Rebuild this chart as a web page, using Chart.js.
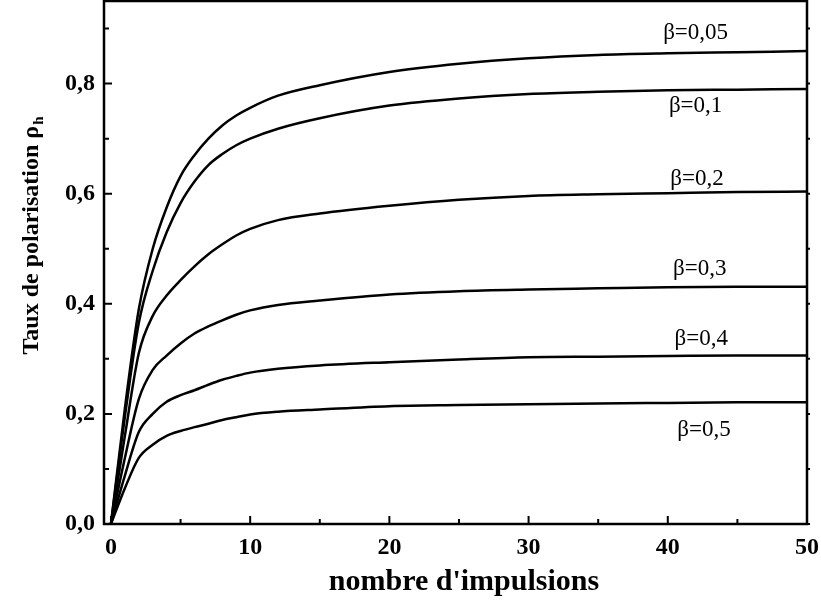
<!DOCTYPE html>
<html>
<head>
<meta charset="utf-8">
<script src="https://cdn.jsdelivr.net/npm/chart.js@4/dist/chart.umd.min.js"></script>
<style>
  body { margin: 0; background: #fff; }
</style>
</head>
<body>
<canvas id="polChart" width="821" height="600"></canvas>
<script>
// ===== Data =====
const pulses = [0, 1, 2, 3, 4, 5, 6, 7, 8, 9, 10, 12, 15, 20, 25, 30, 35, 40, 45, 50];

const rho005 = [0, 0.21, 0.39, 0.50, 0.575, 0.632, 0.670, 0.700, 0.724, 0.742, 0.756, 0.778, 0.797, 0.821, 0.836, 0.846, 0.852, 0.855, 0.857, 0.859];
const rho01  = [0, 0.195, 0.365, 0.46, 0.53, 0.583, 0.622, 0.652, 0.672, 0.688, 0.700, 0.718, 0.737, 0.760, 0.773, 0.781, 0.785, 0.788, 0.789, 0.790];
const rho02  = [0, 0.16, 0.31, 0.378, 0.415, 0.443, 0.468, 0.490, 0.508, 0.524, 0.536, 0.552, 0.564, 0.578, 0.589, 0.596, 0.599, 0.601, 0.603, 0.604];
const rho03  = [0, 0.12, 0.227, 0.28, 0.306, 0.328, 0.346, 0.359, 0.370, 0.380, 0.388, 0.398, 0.406, 0.417, 0.423, 0.426, 0.428, 0.430, 0.431, 0.431];
const rho04  = [0, 0.088, 0.167, 0.20, 0.222, 0.234, 0.243, 0.253, 0.262, 0.269, 0.275, 0.282, 0.288, 0.294, 0.299, 0.303, 0.304, 0.305, 0.306, 0.306];
const rho05  = [0, 0.065, 0.120, 0.144, 0.160, 0.169, 0.176, 0.182, 0.189, 0.194, 0.199, 0.204, 0.208, 0.214, 0.216, 0.2175, 0.219, 0.220, 0.221, 0.221];

const series = [rho005, rho01, rho02, rho03, rho04, rho05];
const curveNames = ["β=0,05", "β=0,1", "β=0,2", "β=0,3", "β=0,4", "β=0,5"];
// label anchors, in data units (x = pulses, y = rate)
const labelX = [42, 42, 42.1, 42.3, 42.4, 42.6];
const labelY = [0.892, 0.759, 0.627, 0.464, 0.337, 0.170];

const xTicks = [0, 10, 20, 30, 40, 50];
const xMinor = [5, 15, 25, 35, 45];
const yTicks = [0, 0.2, 0.4, 0.6, 0.8];
const yMinor = [0.1, 0.3, 0.5, 0.7, 0.9];

const SERIF = "'Liberation Serif', 'Times New Roman', serif";

// ===== Frame, inward ticks, curve labels, axis titles =====
const decorPlugin = {
  id: "decor",
  afterDraw(chart) {
    const ctx = chart.ctx;
    const a = chart.chartArea;
    const xs = chart.scales.x, ys = chart.scales.y;
    ctx.save();
    ctx.strokeStyle = "#000";
    ctx.lineWidth = 2.5;
    ctx.strokeRect(a.left, a.top, a.right - a.left, a.bottom - a.top);

    ctx.lineWidth = 2;
    ctx.beginPath();
    xTicks.forEach(v => {
      const px = xs.getPixelForValue(v);
      ctx.moveTo(px, a.bottom); ctx.lineTo(px, a.bottom - 8);
    });
    xMinor.forEach(v => {
      const px = xs.getPixelForValue(v);
      ctx.moveTo(px, a.bottom); ctx.lineTo(px, a.bottom - 5);
    });
    yTicks.forEach(v => {
      const py = ys.getPixelForValue(v);
      ctx.moveTo(a.left, py); ctx.lineTo(a.left + 8, py);
      ctx.moveTo(a.right, py); ctx.lineTo(a.right + 3, py);
    });
    yMinor.forEach(v => {
      const py = ys.getPixelForValue(v);
      ctx.moveTo(a.left, py); ctx.lineTo(a.left + 5, py);
      ctx.moveTo(a.right, py); ctx.lineTo(a.right + 3, py);
    });
    ctx.stroke();

    // curve labels
    ctx.fillStyle = "#000";
    ctx.font = "23px " + SERIF;
    ctx.textAlign = "center";
    ctx.textBaseline = "middle";
    curveNames.forEach((t, i) => {
      ctx.fillText(t, xs.getPixelForValue(labelX[i]), ys.getPixelForValue(labelY[i]));
    });

    // x axis title
    ctx.textBaseline = "alphabetic";
    ctx.font = "bold 30px " + SERIF;
    ctx.fillText("nombre d'impulsions", 464, 590);

    // y axis title with subscript
    ctx.translate(38, 236);
    ctx.rotate(-Math.PI / 2);
    ctx.textAlign = "left";
    const main = "Taux de polarisation ρ";
    ctx.font = "bold 24px " + SERIF;
    const w1 = ctx.measureText(main).width;
    ctx.font = "bold 15px " + SERIF;
    const w2 = ctx.measureText("h").width;
    const start = -(w1 + w2) / 2;
    ctx.font = "bold 24px " + SERIF;
    ctx.fillText(main, start, 0);
    ctx.font = "bold 15px " + SERIF;
    ctx.fillText("h", start + w1 + 1, 5);
    ctx.restore();
  }
};

const el = document.getElementById("polChart");
new Chart(el, {
  type: "line",
  data: {
    datasets: series.map((vals, i) => ({
      label: curveNames[i],
      data: pulses.map((n, k) => ({ x: n, y: vals[k] })),
      borderColor: "#000",
      borderWidth: 2.5,
      pointRadius: 0,
      cubicInterpolationMode: "monotone",
      fill: false
    }))
  },
  options: {
    responsive: false,
    animation: false,
    layout: { padding: { top: 1, right: 14, left: 0, bottom: 0 } },
    plugins: {
      legend: { display: false },
      tooltip: { enabled: false }
    },
    scales: {
      x: {
        type: "linear",
        min: -0.5,
        max: 50,
        grid: { display: false, drawTicks: false },
        border: { display: false },
        afterBuildTicks: s => { s.ticks = xTicks.map(v => ({ value: v })); },
        afterFit: s => {
          s.height = 76;
          s.paddingLeft = 0; s.paddingRight = 0;
        },
        ticks: {
          padding: 9,
          color: "#000",
          font: { family: SERIF, size: 24, weight: "bold" }
        }
      },
      y: {
        min: 0,
        max: 0.95,
        grid: { display: false, drawTicks: false },
        border: { display: false },
        afterBuildTicks: s => { s.ticks = yTicks.map(v => ({ value: v })); },
        afterFit: s => {
          s.width = 104;
          s.paddingTop = 0; s.paddingBottom = 0;
        },
        ticks: {
          padding: 9,
          color: "#000",
          font: { family: SERIF, size: 24, weight: "bold" },
          callback: v => v.toFixed(1).replace(".", ",")
        }
      }
    }
  },
  plugins: [decorPlugin]
});
</script>
</body>
</html>
